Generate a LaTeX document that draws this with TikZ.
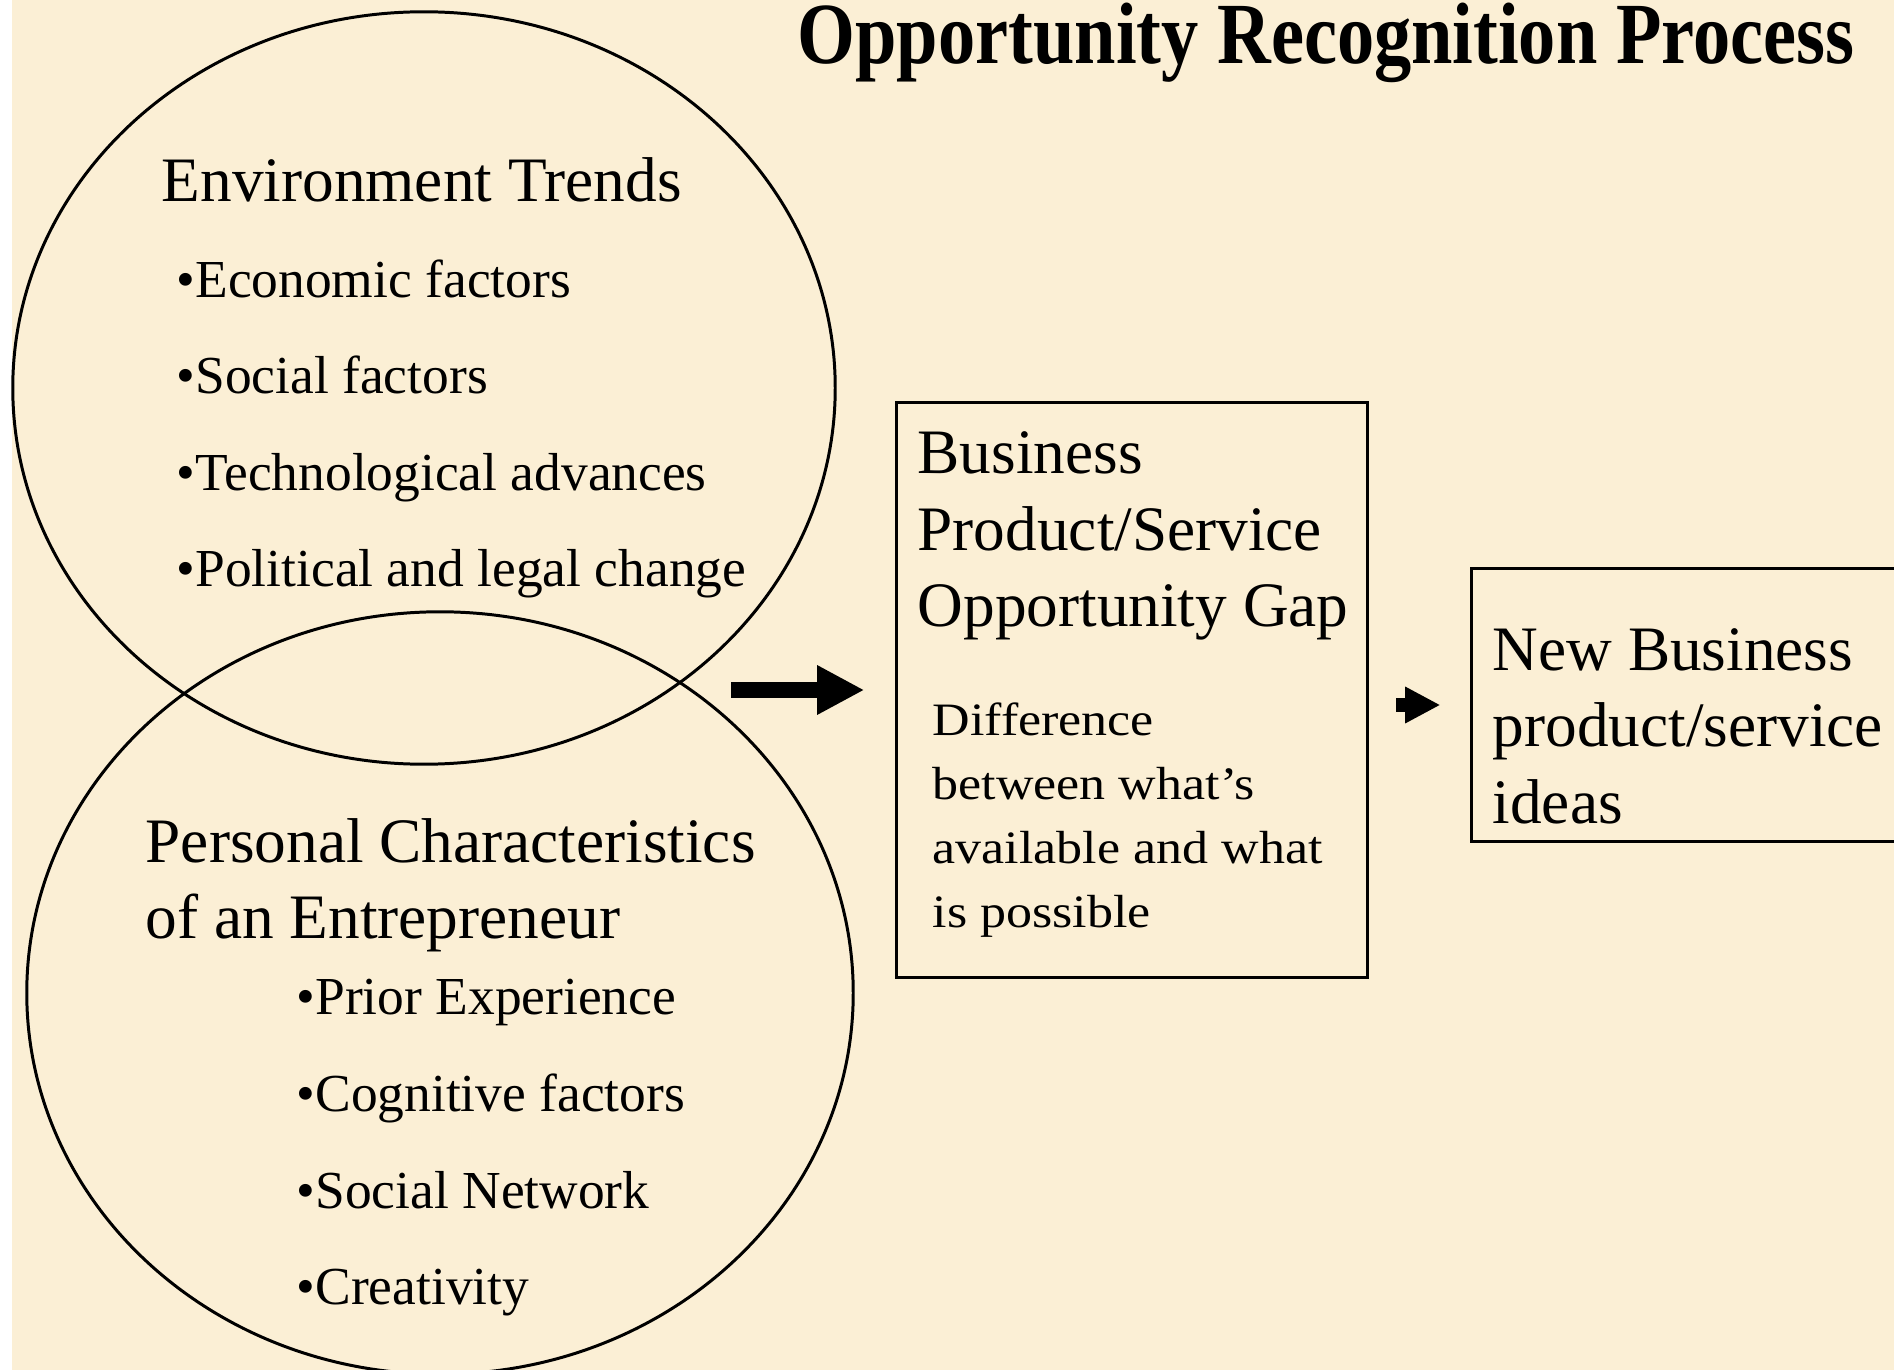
\documentclass[tikz,border=0pt]{standalone}
\usepackage{fontspec}
\setmainfont{Liberation Serif}
\newfontfamily\titlefont[FakeStretch=0.853]{Liberation Serif}
\newfontfamily\widefont[FakeStretch=1.12]{Liberation Serif}
\usetikzlibrary{arrows.meta,shapes.geometric}
\definecolor{parchment}{HTML}{FBEFD5}

\begin{document}
\begin{tikzpicture}[x=0.01cm,y=-0.01cm,
    outline/.style={draw,line width=0.85pt,inner sep=0pt},
    head/.style={anchor=base west,inner sep=0pt,font=\fontsize{18}{22}\selectfont},
    item/.style={anchor=base west,inner sep=0pt,font=\fontsize{15.2}{18}\selectfont},
    note/.style={anchor=base west,inner sep=0pt,font=\widefont\fontsize{13.2}{16}\selectfont},
    bigarrow/.style={line width=4.3pt,-{Triangle[length=13.4pt,width=13.1pt]}},
    smallarrow/.style={line width=3.7pt,-{Triangle[length=10pt,width=9.7pt]}}]
    \useasboundingbox (0,0) rectangle (1894,1370);
    \fill[white] (0,0) rectangle (1894,1370);
    \fill[parchment] (12,0) rectangle (1894,1370);

    % title
    \node[anchor=base west,inner sep=0pt,font=\titlefont\bfseries\fontsize{24.8}{30}\selectfont] (title) at (797,64) {Opportunity Recognition Process};

    % the two overlapping ellipses
    \node[outline,ellipse,minimum width=8.22cm,minimum height=7.52cm] (trends) at (424,388) {};
    \node[outline,ellipse,minimum width=8.26cm,minimum height=7.62cm] (person) at (440,993) {};

    \node[head] (trendshead) at (161,202) {Environment Trends};
    \foreach \txt [count=\i] in {Economic factors,Social factors,Technological advances,Political and legal change}
        \node[item] (trend\i) at (176,202+96*\i) {•\txt};

    \node[head] (personhead1) at (145,862) {Personal Characteristics};
    \node[head] (personhead2) at (145,938) {of an Entrepreneur};
    \foreach \txt [count=\i] in {Prior Experience,Cognitive factors,Social Network,Creativity}
        \node[item] (person\i) at (296,918+96.7*\i) {•\txt};

    % opportunity gap box
    \node[outline,minimum width=4.7cm,minimum height=5.74cm] (gap) at (1132,690) {};
    \foreach \txt [count=\i] in {Business,Product/Service,Opportunity Gap}
        \node[head] (gaphead\i) at (917,397+76.5*\i) {\txt};
    \foreach \txt [count=\i] in {Difference,between what’s,available and what,is possible}
        \node[note] (gapnote\i) at (932,671+64*\i) {\txt};

    % ideas box
    \node[outline,minimum width=4.3cm,minimum height=2.72cm] (ideas) at (1687,705) {};
    \foreach \txt [count=\i] in {New Business,product/service,ideas}
        \node[head] (idea\i) at (1492,593.5+76.5*\i) {\txt};

    % arrows
    \coordinate (venn) at (731,690);
    \coordinate (gapout) at (1396,705);
    \draw[bigarrow,shorten >=0.31cm] (venn) -- (gap.west);
    \draw[smallarrow,shorten >=0.30cm] (gapout) -- (ideas.west);
\end{tikzpicture}
\end{document}
